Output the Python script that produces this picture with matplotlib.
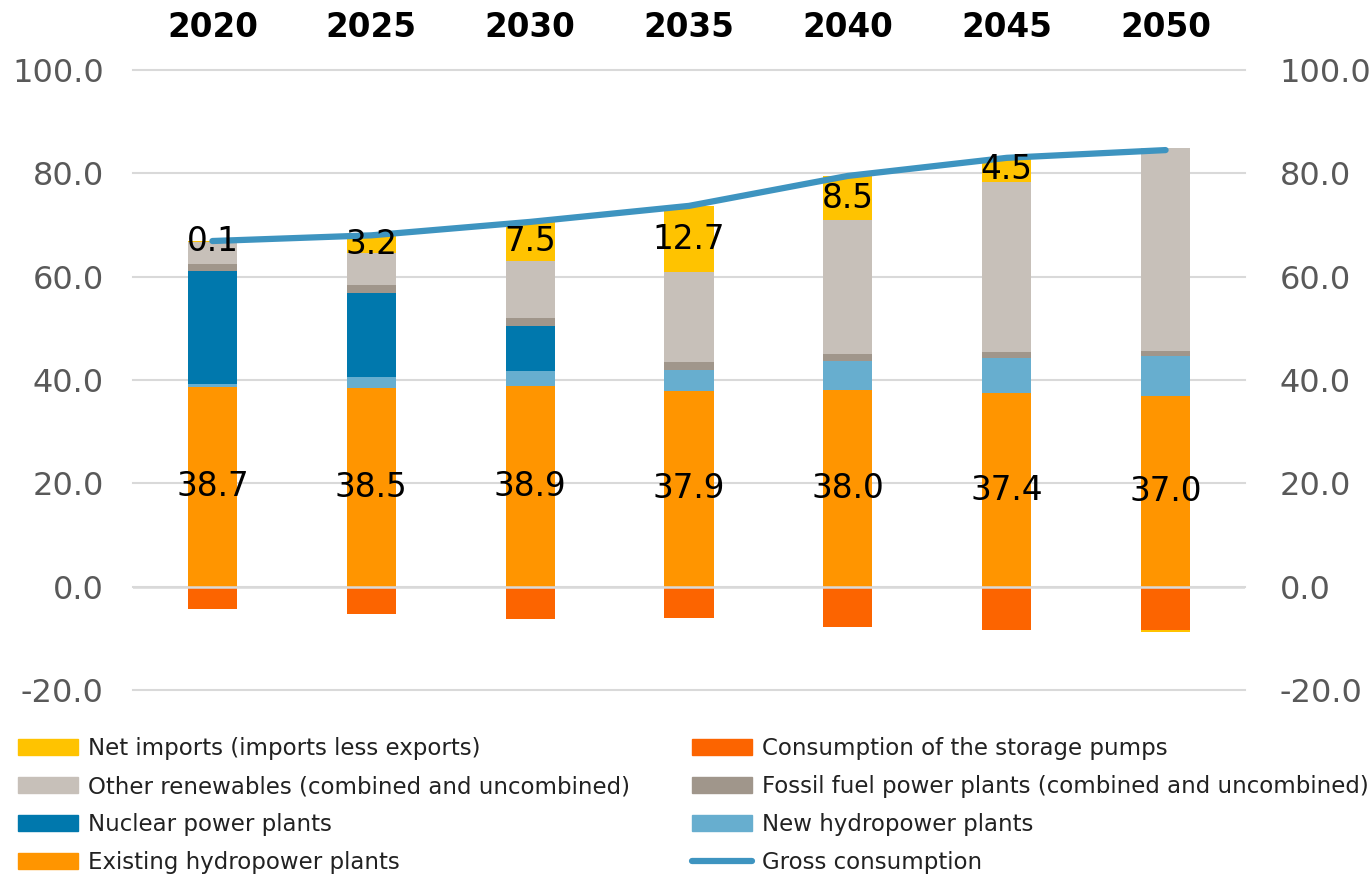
import matplotlib.pyplot as plt
from matplotlib.patches import Patch
from matplotlib.lines import Line2D
import numpy as np

# values (TWh)
years = ['2020', '2025', '2030', '2035', '2040', '2045', '2050']
existing_hydro = [38.7, 38.5, 38.9, 37.9, 38.0, 37.4, 37.0]
new_hydro = [0.5, 2.0, 2.8, 4.1, 5.7, 6.9, 7.7]
nuclear = [21.9, 16.4, 8.8, 0.0, 0.0, 0.0, 0.0]
fossil = [1.4, 1.5, 1.5, 1.5, 1.4, 1.2, 1.0]
other_renew = [4.3, 6.2, 11.0, 17.4, 25.8, 32.9, 39.2]
net_imports = [0.1, 3.2, 7.5, 12.7, 8.5, 4.5, -0.4]
pumps = [-4.3, -5.2, -6.2, -6.0, -7.9, -8.3, -8.3]
gross = [66.9, 68.0, 70.6, 73.7, 79.5, 83.0, 84.5]

c_imports = '#ffc300'
c_other = '#c7c0b9'
c_fossil = '#a0968b'
c_nuclear = '#0078ad'
c_newhydro = '#67aecf'
c_exhydro = '#ff9500'
c_pumps = '#fc6400'
c_gross = '#3e94c0'

plt.rcParams['font.family'] = 'DejaVu Sans'

fig = plt.figure(figsize=(13.71, 8.77), dpi=100)
ax = fig.add_axes([133/1371, 1-690/877, (1245-133)/1371, (690-70)/877])

x = np.arange(len(years))
w = 0.31

# positive stack
bottom = np.zeros(len(years))
stack = [(existing_hydro, c_exhydro), (new_hydro, c_newhydro), (nuclear, c_nuclear),
         (fossil, c_fossil), (other_renew, c_other)]
for vals, col in stack:
    ax.bar(x, vals, w, bottom=bottom, color=col, zorder=2)
    bottom += np.array(vals)

imp = np.array(net_imports)
pos_imp = np.where(imp > 0, imp, 0)
ax.bar(x, pos_imp, w, bottom=bottom, color=c_imports, zorder=2)

# negative stack
ax.bar(x, pumps, w, color=c_pumps, zorder=2)
neg_imp = np.where(imp < 0, imp, 0)
ax.bar(x, neg_imp, w, bottom=pumps, color=c_imports, zorder=2)

ax.plot(x, gross, color=c_gross, lw=4.5, solid_capstyle='round', zorder=4)

# data labels
for i in range(len(years)):
    ax.text(x[i], existing_hydro[i] / 2, f'{existing_hydro[i]:.1f}', ha='center', va='center',
            fontsize=23.5, zorder=5)
    if imp[i] > 0:
        ax.text(x[i], bottom[i] + imp[i] / 2, f'{imp[i]:.1f}', ha='center', va='center',
                fontsize=23.5, zorder=5)

ticks = np.arange(-20, 101, 20)
ax.set_xlim(-0.5, len(years) - 0.5)
ax.set_ylim(-20, 100)
ax.set_yticks(ticks)
ax.set_yticklabels([f'{v:.1f}' for v in ticks])
ax.yaxis.grid(True, color='#d9d9d9', lw=1.5, zorder=0)
for gl in ax.get_ygridlines():
    gl.set_clip_on(False)
ax.axhline(0, color='#d9d9d9', lw=1.8, zorder=3)
ax.set_axisbelow(True)

ax.xaxis.tick_top()
ax.set_xticks(x)
ax.set_xticklabels(years, fontsize=23.5, fontweight='bold')
ax.tick_params(axis='x', length=0, pad=19)
ax.tick_params(axis='y', length=0, pad=21, labelsize=23, labelcolor='#595959')
for s in ax.spines.values():
    s.set_visible(False)

ax2 = ax.twinx()
ax2.set_ylim(-20, 100)
ax2.set_yticks(ticks)
ax2.set_yticklabels([f'{v:.1f}' for v in ticks])
ax2.tick_params(axis='y', length=0, pad=25, labelsize=23, labelcolor='#595959')
for s in ax2.spines.values():
    s.set_visible(False)

# legend, two columns
left_items = [Patch(color=c_imports, label='Net imports (imports less exports)'),
              Patch(color=c_other, label='Other renewables (combined and uncombined)'),
              Patch(color=c_nuclear, label='Nuclear power plants'),
              Patch(color=c_exhydro, label='Existing hydropower plants')]
right_items = [Patch(color=c_pumps, label='Consumption of the storage pumps'),
               Patch(color=c_fossil, label='Fossil fuel power plants (combined and uncombined)'),
               Patch(color=c_newhydro, label='New hydropower plants'),
               Line2D([0], [0], color=c_gross, lw=4.5, solid_capstyle='round', label='Gross consumption')]

leg_kw = dict(loc='upper left', frameon=False, fontsize=16.5, handlelength=2.62,
              handleheight=0.7, handletextpad=0.44, labelspacing=0.66,
              borderaxespad=0, borderpad=0, labelcolor='#222222')
leg1 = fig.legend(handles=left_items, bbox_to_anchor=(18/1371, 1-737/877), **leg_kw)
leg2 = fig.legend(handles=right_items, bbox_to_anchor=(692/1371, 1-737/877), **leg_kw)

fig.savefig('out.png', dpi=100)
